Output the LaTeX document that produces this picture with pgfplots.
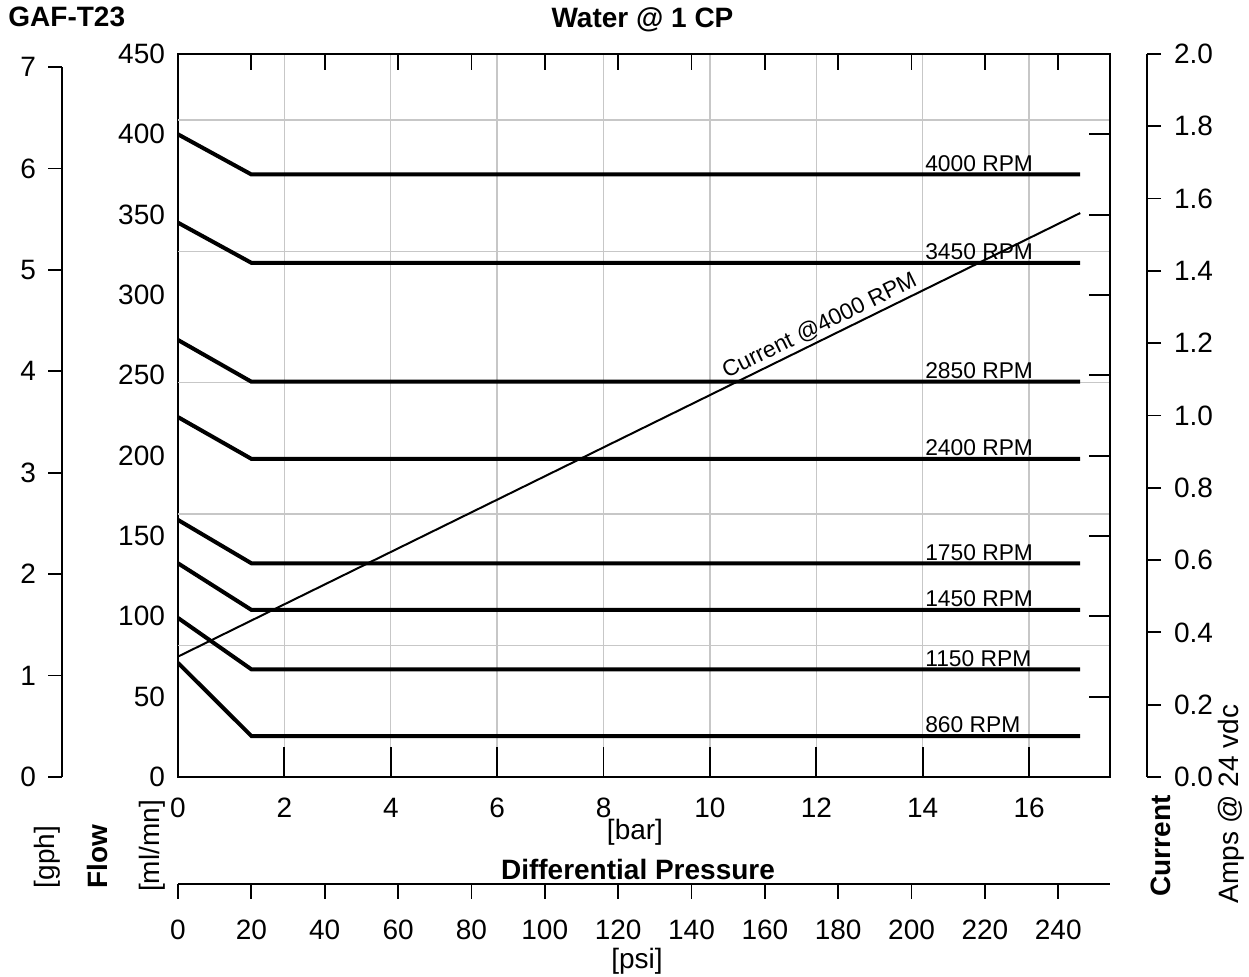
\documentclass[border=0pt]{standalone}
\usepackage{fontspec}
\setmainfont{Liberation Sans}
\usepackage{pgfplots}
\pgfplotsset{compat=1.18}

\newcommand\fs{\fontsize{14}{16.8}\selectfont}
\newcommand\fsm{\fontsize{11.4}{13.7}\selectfont}

\pgfplotsset{
  every axis/.append style={
    scale only axis,
    /pgf/number format/assume math mode=true,
    tick label style={font=\fs},
    tick style={black, line width=0.9pt},
    axis line style={line width=1pt},
  },
  rpm/.style={black, line width=2pt, mark=none},
  % same frame as the main plot
  frame/.style={at={(89pt,100pt)}, anchor=south west, width=466pt, height=361.5pt},
}

\begin{document}
\begin{tikzpicture}[x=1pt, y=1pt]

% main plot: flow [ml/min] vs differential pressure [bar]
\begin{axis}[
  frame,
  xmin=0, xmax=17.52, ymin=0, ymax=450,
  xtick={0,2,...,16}, xtick pos=bottom, tick align=inside, major tick length=15pt,
  ytick={0,50,...,450}, ytick style={draw=none}, yticklabel pos=left,
  xmajorgrids, grid style={black!22, line width=0.7pt},
  extra y ticks={81.8,163.6,245.4,327.2,409},
  extra y tick labels={},
  extra y tick style={grid=major},
  xticklabel style={yshift=-7pt},
  yticklabel style={xshift=-3pt},
]
\addplot[rpm] coordinates {(0,400) (1.38,375) (16.96,375)};
\addplot[rpm] coordinates {(0,345) (1.38,320) (16.96,320)};
\addplot[rpm] coordinates {(0,272) (1.38,246) (16.96,246)};
\addplot[rpm] coordinates {(0,224) (1.38,198) (16.96,198)};
\addplot[rpm] coordinates {(0,160) (1.38,133) (16.96,133)};
\addplot[rpm] coordinates {(0,133) (1.38,104) (16.96,104)};
\addplot[rpm] coordinates {(0,99) (1.38,67) (16.96,67)};
\addplot[rpm] coordinates {(0,71) (1.38,25.5) (16.96,25.5)};
\begin{scope}[every node/.style={anchor=base west, inner sep=0pt, yshift=1.6pt, font=\fsm}]
\node at (axis cs:14.04,375) {4000 RPM};
\node at (axis cs:14.04,320) {3450 RPM};
\node at (axis cs:14.04,246) {2850 RPM};
\node at (axis cs:14.04,198) {2400 RPM};
\node at (axis cs:14.04,133) {1750 RPM};
\node at (axis cs:14.04,104) {1450 RPM};
\node at (axis cs:14.04,67) {1150 RPM};
\node at (axis cs:14.04,25.5) {860 RPM};
\end{scope}
\end{axis}

% inner ticks on the right side (ml/min)
\begin{axis}[
  frame, ymin=0, ymax=450, xmin=0, xmax=1,
  axis y line*=right, axis x line=none,
  ytick={50,100,...,400}, yticklabels={},
  tick align=inside, major tick length=10.5pt,
]
\end{axis}

% inner psi ticks on top
\begin{axis}[
  frame, xmin=0, xmax=254.1, ymin=0, ymax=1,
  axis x line*=top, axis y line=none,
  xtick={20,40,...,240}, xticklabels={},
  tick align=inside, major tick length=8pt,
]
\end{axis}

% current at 4000 RPM
\begin{axis}[
  frame, xmin=0, xmax=17.52, ymin=0, ymax=2, hide axis,
]
\addplot[black, line width=1pt, mark=none] coordinates {(0,0.333) (16.96,1.560)}
  node[pos=0.718, sloped, above, inner sep=1.5pt, font=\fsm] {Current @4000 RPM};
\end{axis}

% gph scale
\begin{axis}[
  at={(31pt,100pt)}, anchor=south west, width=20pt, height=355pt,
  xmin=0, xmax=1, ymin=0, ymax=7,
  axis y line=left, axis x line=none, axis line style={-},
  ytick={0,...,7}, tick align=outside, major tick length=7pt,
  yticklabel style={xshift=-2.5pt},
]
\end{axis}

% current scale
\begin{axis}[
  at={(573.5pt,100pt)}, anchor=south east, width=20pt, height=361.5pt,
  xmin=0, xmax=1, ymin=0, ymax=2,
  axis y line=right, axis x line=none, axis line style={-},
  ytick={0,0.2,0.4,0.6,0.8,1,1.2,1.4,1.6,1.8,2},
  yticklabel style={xshift=3pt, /pgf/number format/.cd, fixed, fixed zerofill, precision=1},
  tick align=outside, major tick length=7pt,
]
\end{axis}

% psi scale
\begin{axis}[
  at={(89pt,46.5pt)}, anchor=south west, width=466pt, height=10pt,
  xmin=0, xmax=254.1, ymin=0, ymax=1,
  axis x line=bottom, axis y line=none, axis line style={-},
  xtick={0,20,...,240}, tick align=outside, major tick length=7.5pt,
  xticklabel style={yshift=-7pt},
]
\end{axis}

\node[anchor=base west, inner sep=0pt, font=\fs\bfseries] at (4,475) {GAF-T23};
\node[anchor=base, inner sep=0pt, font=\fs\bfseries] at (321.25,474.5) {Water @ 1 CP};
\node[anchor=base, inner sep=0pt, font=\fs] at (317.5,68.5) {[bar]};
\node[anchor=base, inner sep=0pt, font=\fs\bfseries] at (319,48.5) {Differential Pressure};
\node[anchor=base, inner sep=0pt, font=\fs] at (318.5,4) {[psi]};
\node[rotate=90, inner sep=0pt, font=\fs] at (23.5,60) {[gph]};
\node[rotate=90, inner sep=0pt, font=\fs\bfseries] at (48.5,60) {Flow};
\node[rotate=90, inner sep=0pt, font=\fs] at (76.25,65.5) {[ml/mn]};
\node[rotate=90, inner sep=0pt, font=\fs\bfseries] at (580.5,65.5) {Current};
\node[rotate=90, inner sep=0pt, font=\fs] at (615.75,86.5) {Amps @ 24 vdc};

\pgfresetboundingbox
\useasboundingbox (0,0) rectangle (624.5,488.5);
\end{tikzpicture}
\end{document}
